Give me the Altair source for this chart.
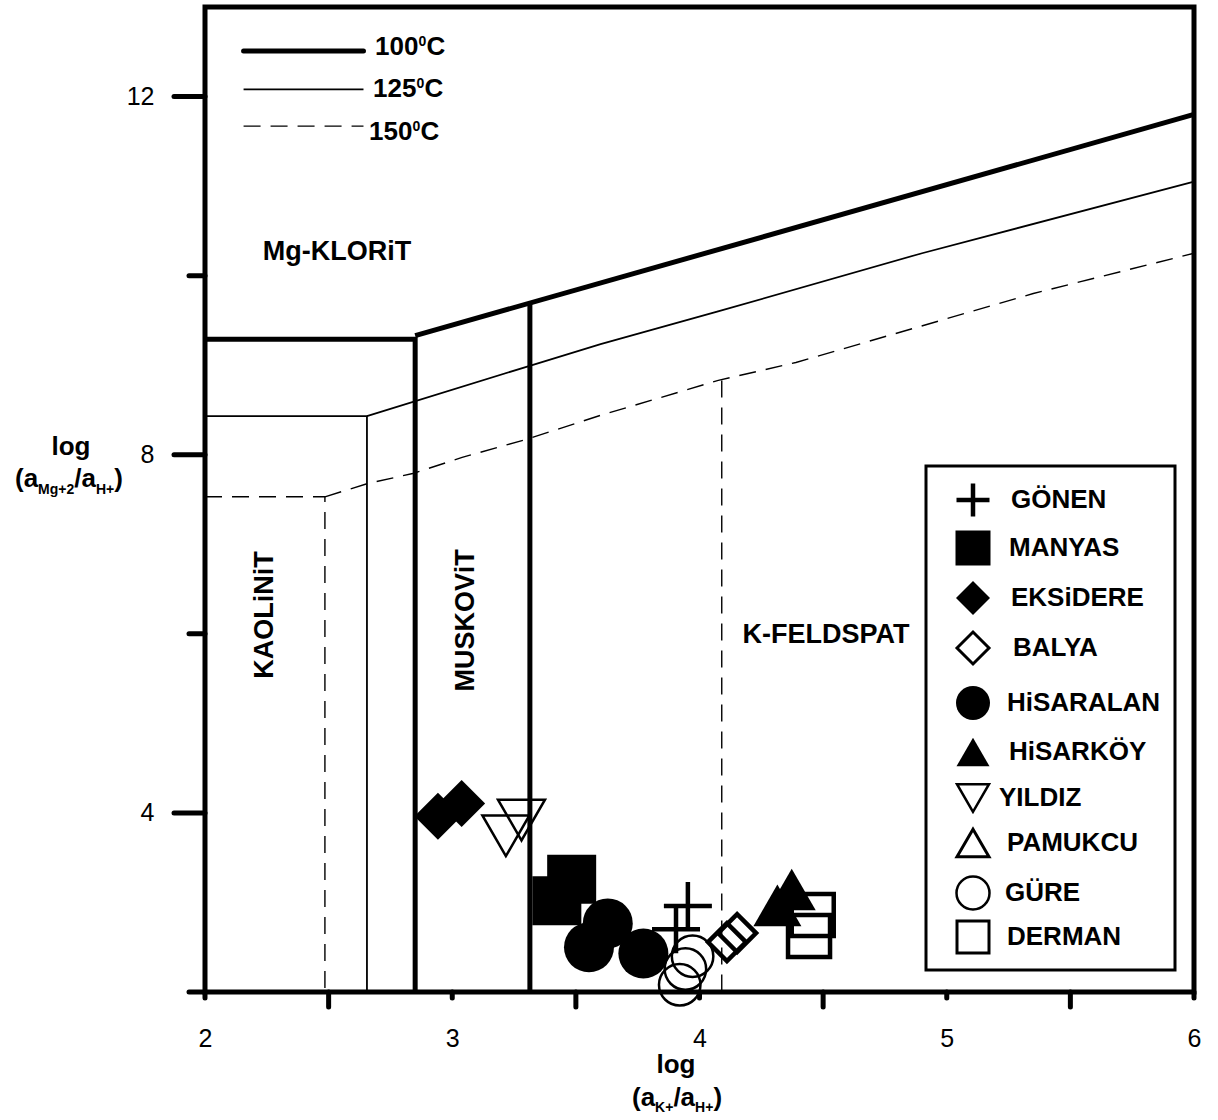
import altair as alt
import pandas as pd

FONT = "Liberation Sans"
W, H = 989, 985          # plot area (pixels)
LEFT, TOP = 205, 7       # offset of the plot area on the page

# ---------------- stability-field boundaries ----------------
# 100 °C
t100_kao_x = [2.0, 2.85, 2.85]
t100_kao_y = [9.29, 9.29, 2.0]
t100_chl_x = [2.85, 6.0]
t100_chl_y = [9.33, 11.80]
t100_mus_x = [3.314, 3.314]
t100_mus_y = [9.70, 2.0]

# 125 °C
t125_kao_x = [2.0, 2.655, 2.655]
t125_kao_y = [8.43, 8.43, 2.0]
t125_chl_x = [2.655, 3.31, 3.60, 4.075, 4.90, 6.0]
t125_chl_y = [8.43, 8.99, 9.235, 9.60, 10.25, 11.05]

# 150 °C
t150_kao_x = [2.0, 2.485, 2.485]
t150_kao_y = [7.53, 7.53, 2.0]
t150_chl_x = [2.485, 2.66, 2.84, 3.04, 3.31, 3.60, 4.076, 4.39, 5.35, 6.0]
t150_chl_y = [7.53, 7.68, 7.79, 7.97, 8.18, 8.44, 8.83, 9.03, 9.80, 10.25]
t150_kfs_x = [4.09, 4.09]
t150_kfs_y = [8.83, 2.0]

# ---------------- water samples ----------------
series = ["GÖNEN", "MANYAS", "EKSiDERE", "BALYA", "HiSARALAN",
          "HiSARKÖY", "YILDIZ", "PAMUKCU", "GÜRE", "DERMAN"]
gonen_x, gonen_y = [3.953, 3.905], [2.96, 2.70]
manyas_x, manyas_y = [3.423, 3.483], [3.02, 3.26]
eksidere_x, eksidere_y = [2.942, 3.038], [3.964, 4.106]
balya_x, balya_y = [4.111, 4.152], [2.557, 2.658]
hisaralan_x, hisaralan_y = [3.553, 3.629, 3.773], [2.50, 2.766, 2.43]
hisarkoy_x, hisarkoy_y = [4.315, 4.373], [2.967, 3.145]
yildiz_x, yildiz_y = [3.217, 3.28], [3.745, 3.92]
pamukcu_x, pamukcu_y = [], []
gure_x, gure_y = [3.972, 3.943, 3.92], [2.40, 2.256, 2.08]
derman_x, derman_y = [4.443, 4.458], [2.626, 2.86]

sample_x = [gonen_x, manyas_x, eksidere_x, balya_x, hisaralan_x,
            hisarkoy_x, yildiz_x, pamukcu_x, gure_x, derman_x]
sample_y = [gonen_y, manyas_y, eksidere_y, balya_y, hisaralan_y,
            hisarkoy_y, yildiz_y, pamukcu_y, gure_y, derman_y]

# field names
field_names = ["Mg-KLORiT", "K-FELDSPAT"]
field_x = [2.534, 4.512]
field_y = [10.17, 5.895]
field_names_v = ["KAOLiNiT", "MUSKOViT"]
field_x_v = [2.275, 3.088]
field_y_v = [6.21, 6.15]

# axis ticks
x_major = [2, 3, 4, 5, 6]
x_minor = [2.5, 3.5, 4.5, 5.5]
y_major = [4, 8, 12]
y_minor = [2, 6, 10]

# temperature key
temp_labels = ["100", "125", "150"]
key_x = [2.156, 2.641]
key_y = [12.51, 12.08, 11.67]

PLUS = "M-1,0L1,0M0,-1L0,1"
# marker style per sample: shape, filled, size, stroke, legend size, legend stroke
STYLE = {
    "GÖNEN":     (PLUS, False, 2304, 4.5, 1089, 4.5),
    "MANYAS":    ("square", True, 2401, 0, 1225, 0),
    "EKSiDERE":  ("diamond", True, 2209, 0, 1156, 0),
    "BALYA":     ("diamond", False, 1444, 4.5, 1024, 3),
    "HiSARALAN": ("circle", True, 2500, 0, 1156, 0),
    "HiSARKÖY":  ("triangle-up", True, 2304, 0, 1089, 0),
    "YILDIZ":    ("triangle-down", False, 2209, 2.5, 1024, 2.5),
    "PAMUKCU":   ("triangle-up", False, 2209, 2.5, 1024, 3),
    "GÜRE":      ("circle", False, 1722, 2.5, 1089, 2.5),
    "DERMAN":    ("square", False, 1764, 4.5, 1024, 3),
}

# legend layout (page pixels)
legend_box = (926, 466, 1175, 970)
legend_row_y = [500, 548, 598, 648, 703, 752, 798, 843, 893, 937]
legend_sym_x = 973
legend_txt_x = [1011, 1009, 1011, 1013, 1007, 1009, 999, 1007, 1005, 1007]

ONE = pd.DataFrame({"k": [0]})

xscale = alt.Scale(domain=[2, 6], nice=False, zero=False)
yscale = alt.Scale(domain=[2, 13], nice=False, zero=False)
X = alt.X("x:Q", scale=xscale, title=None,
          axis=alt.Axis(values=x_major, ticks=False, tickSize=0, domain=False,
                        grid=False, labelFont=FONT, labelFontSize=25,
                        labelColor="black", labelPadding=34, labelFlush=False,
                        labelOverlap=False, format="d"))
Y = alt.Y("y:Q", scale=yscale, title=None,
          axis=alt.Axis(values=y_major, ticks=False, tickSize=0, domain=False,
                        grid=False, labelFont=FONT, labelFontSize=25,
                        labelColor="black", labelPadding=51, labelFlush=False,
                        labelOverlap=False, format="d"))


def seg_frame(*segs):
    rows = []
    for k, (xs, ys) in enumerate(segs):
        for i, (x, y) in enumerate(zip(xs, ys)):
            rows.append({"x": x, "y": y, "seg": k, "i": i})
    return pd.DataFrame(rows)


def lines(df, **style):
    return alt.Chart(df).mark_line(color="black", **style).encode(
        x=X, y=Y, detail="seg:N", order="i:Q")


def ptext(txt, px, py, size, weight="bold", align="left", baseline="alphabetic"):
    return alt.Chart(ONE).mark_text(
        text=txt, font=FONT, fontSize=size, fontWeight=weight, align=align,
        baseline=baseline, color="black").encode(
        x=alt.value(px - LEFT), y=alt.value(py - TOP))


def marker(shape, filled, size, stroke):
    kw = dict(shape=shape, size=size, opacity=1, color="black")
    if filled:
        kw.update(filled=True, strokeWidth=0)
    else:
        kw.update(filled=False, strokeWidth=stroke)
    return kw


layers = []

# boundaries
DASH = [17, 10]
layers.append(lines(seg_frame((t150_kao_x, t150_kao_y), (t150_chl_x, t150_chl_y),
                              (t150_kfs_x, t150_kfs_y)),
                    strokeWidth=1.4, strokeDash=DASH))
layers.append(lines(seg_frame((t125_kao_x, t125_kao_y), (t125_chl_x, t125_chl_y)),
                    strokeWidth=1.8))
layers.append(lines(seg_frame((t100_kao_x, t100_kao_y), (t100_chl_x, t100_chl_y),
                              (t100_mus_x, t100_mus_y)),
                    strokeWidth=5, strokeJoin="miter"))

# temperature key
layers.append(lines(seg_frame((key_x, [key_y[0]] * 2)), strokeWidth=5, strokeCap="round"))
layers.append(lines(seg_frame((key_x, [key_y[1]] * 2)), strokeWidth=1.8))
layers.append(lines(seg_frame((key_x, [key_y[2]] * 2)), strokeWidth=1.4, strokeDash=DASH))
for lbl, lx, base in zip(temp_labels, [375, 373, 369], [55, 97, 140]):
    layers.append(ptext(lbl, lx, base, 26))
    layers.append(ptext("0", lx + 43.4, base - 9, 14))
    layers.append(ptext("C", lx + 51.5, base, 26))

# field names
layers.append(alt.Chart(pd.DataFrame({"x": field_x, "y": field_y, "t": field_names}))
              .mark_text(font=FONT, fontSize=27, fontWeight="bold", align="center",
                         baseline="alphabetic", color="black")
              .encode(x=X, y=Y, text="t:N"))
layers.append(alt.Chart(pd.DataFrame({"x": field_x_v, "y": field_y_v, "t": field_names_v}))
              .mark_text(font=FONT, fontSize=27, fontWeight="bold", align="center",
                         baseline="alphabetic", angle=270, color="black")
              .encode(x=X, y=Y, text="t:N"))

# axis ticks
layers.append(alt.Chart(pd.DataFrame({"x": x_major})).mark_rule(
    color="black", strokeWidth=5, strokeCap="round").encode(
    x=X, y=alt.value(H), y2=alt.value(H + 6)))
layers.append(alt.Chart(pd.DataFrame({"x": x_minor})).mark_rule(
    color="black", strokeWidth=5, strokeCap="round").encode(
    x=X, y=alt.value(H), y2=alt.value(H + 15)))
layers.append(alt.Chart(pd.DataFrame({"y": y_major})).mark_rule(
    color="black", strokeWidth=5, strokeCap="round").encode(
    y=Y, x=alt.value(-31), x2=alt.value(0)))
layers.append(alt.Chart(pd.DataFrame({"y": y_minor})).mark_rule(
    color="black", strokeWidth=5, strokeCap="round").encode(
    y=Y, x=alt.value(-16), x2=alt.value(0)))

# samples
for name, xs, ys in zip(series, sample_x, sample_y):
    if not xs:
        continue
    shape, filled, size, stroke, _, _ = STYLE[name]
    layers.append(alt.Chart(pd.DataFrame({"x": xs, "y": ys, "site": name}))
                  .mark_point(**marker(shape, filled, size, stroke))
                  .encode(x=X, y=Y))

# legend
bx0, by0, bx1, by1 = legend_box
layers.append(alt.Chart(ONE).mark_rect(fill="white", stroke="black", strokeWidth=3)
              .encode(x=alt.value(bx0 - LEFT), x2=alt.value(bx1 - LEFT),
                      y=alt.value(by0 - TOP), y2=alt.value(by1 - TOP)))
for name, ry, tx in zip(series, legend_row_y, legend_txt_x):
    shape, filled, _, _, lsize, lstroke = STYLE[name]
    layers.append(alt.Chart(ONE).mark_point(**marker(shape, filled, lsize, lstroke))
                  .encode(x=alt.value(legend_sym_x - LEFT), y=alt.value(ry - TOP)))
    layers.append(ptext(name, tx, ry, 26, baseline="middle"))

# axis titles: log(a_Mg+2 / a_H+) and log(a_K+ / a_H+)
layers.append(ptext("log", 71, 455, 26, align="center"))
layers.append(ptext("(a", 15, 487, 26))
layers.append(ptext("Mg+2", 38.1, 494, 14))
layers.append(ptext("/a", 74.3, 487, 26))
layers.append(ptext("H+", 96, 494, 14))
layers.append(ptext(")", 114.3, 487, 26))

layers.append(ptext("log", 676, 1073, 26, align="center"))
layers.append(ptext("(a", 632, 1106, 26))
layers.append(ptext("K+", 655.1, 1112, 14))
layers.append(ptext("/a", 673.4, 1106, 26))
layers.append(ptext("H+", 695.1, 1112, 14))
layers.append(ptext(")", 713.4, 1106, 26))

chart = alt.layer(*layers).properties(
    width=W, height=H,
    padding={"left": LEFT, "top": TOP, "right": 1218 - LEFT - W, "bottom": 1120 - TOP - H},
    autosize=alt.AutoSizeParams(type="none"),
    background="white",
).configure_view(stroke="black", strokeWidth=5)

chart.save("out.html", embed_options={"renderer": "svg", "actions": False})
